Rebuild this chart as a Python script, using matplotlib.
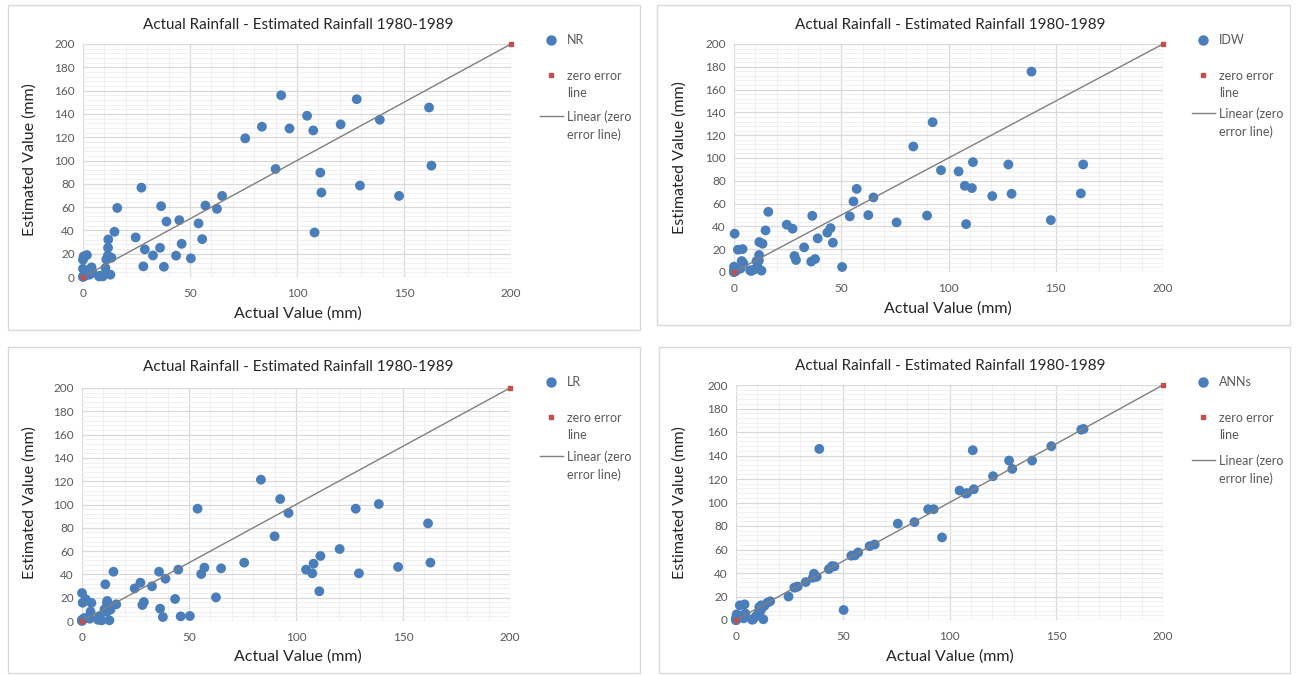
import matplotlib
matplotlib.use("Agg")
import matplotlib.pyplot as plt
from matplotlib.lines import Line2D
from matplotlib.patches import Rectangle
from matplotlib.ticker import MultipleLocator

plt.rcParams['font.family'] = ['Lato', 'DejaVu Sans']

title = "Actual Rainfall - Estimated Rainfall 1980-1989"
xlabel = "Actual Value (mm)"
ylabel = "Estimated Value (mm)"

actual = [162.8, 161.7, 147.7, 138.7, 129.4, 127.9, 120.4, 111.4, 110.9, 108.2,
          107.6, 104.7, 96.5, 92.6, 90.0, 83.6, 75.8, 65.0, 62.6, 57.2,
          55.7, 54.0, 50.4, 46.1, 45.0, 43.5, 39.0, 37.8, 36.5, 36.0,
          32.7, 28.9, 28.2, 27.3, 24.6, 16.0, 14.7, 13.3, 12.8, 11.8,
          11.7, 11.6, 10.9, 10.5, 9.2, 8.0, 7.5, 4.4, 4.0, 3.6,
          3.0, 1.8, 1.0, 0.3, 0.0, 0.0, 0.0, 0.0]

nr = [95.6, 145.5, 69.6, 135.0, 78.5, 152.6, 131.0, 72.5, 89.6, 38.2,
      125.8, 138.4, 127.5, 156.0, 92.7, 129.0, 119.0, 69.6, 58.5, 61.3,
      32.5, 46.0, 16.0, 28.5, 48.8, 18.3, 47.6, 8.8, 60.8, 25.1,
      18.5, 23.7, 9.1, 76.7, 34.0, 59.3, 38.8, 16.5, 2.0, 32.2,
      25.1, 18.3, 15.1, 7.7, 0.5, 1.1, 0.5, 4.3, 8.3, 3.0,
      2.0, 18.8, 1.0, 17.7, 14.8, 7.1, 0.0, 0.5]

idw = [94.3, 68.9, 45.5, 175.8, 68.6, 94.3, 66.6, 96.4, 73.6, 42.0,
       75.6, 88.2, 89.3, 131.4, 49.5, 110.1, 43.5, 65.4, 49.9, 72.9,
       61.9, 48.8, 4.4, 25.7, 38.5, 34.5, 29.5, 11.4, 49.3, 9.1,
       21.6, 10.5, 14.0, 38.0, 41.5, 52.8, 36.5, 24.8, 1.2, 26.3,
       14.9, 10.0, 5.0, 9.6, 2.0, 0.9, 1.5, 7.6, 20.1, 9.6,
       3.0, 19.6, 1.0, 33.6, 4.7, 2.0, 0.0, 0.0]

lr = [50.1, 83.8, 46.4, 100.4, 40.9, 96.4, 61.8, 55.8, 25.5, 49.2,
      40.9, 44.1, 92.7, 104.7, 72.7, 121.3, 50.1, 45.2, 20.3, 45.8,
      40.3, 96.4, 4.3, 4.0, 44.1, 18.9, 36.3, 3.4, 10.6, 42.3,
      29.8, 16.3, 13.7, 32.9, 28.0, 14.3, 42.3, 9.7, 0.6, 17.2,
      15.6, 8.0, 31.5, 10.0, 0.6, 4.0, 1.0, 15.5, 8.0, 2.0,
      3.0, 18.6, 2.5, 15.7, 24.0, 1.0, 0.0, 0.5]

anns = [162.6, 162.0, 147.9, 135.7, 128.6, 135.7, 122.4, 111.3, 144.5, 108.0,
        107.6, 110.2, 70.3, 94.3, 94.3, 83.3, 82.0, 64.3, 62.9, 57.5,
        55.0, 54.7, 8.5, 45.6, 45.9, 43.3, 145.6, 36.8, 39.4, 36.0,
        32.3, 28.5, 28.0, 27.5, 20.0, 15.9, 14.7, 12.0, 0.6, 12.5,
        10.0, 8.0, 11.0, 6.0, 3.0, 0.5, 0.3, 5.5, 13.3, 1.4,
        4.0, 12.5, 2.0, 4.8, 0.0, 0.0, 0.0, 2.0]

zero_x = [0, 200]
zero_y = [0, 200]

series_names = ["NR", "IDW", "LR", "ANNs"]
series_vals = [nr, idw, lr, anns]

W, H = 1298, 675
fig = plt.figure(figsize=(W / 100, H / 100), dpi=100)
fig.patch.set_facecolor('white')

BLUE = '#4A7EBB'
RED = '#C0504D'
GRAY_TXT = '#595959'
LINE_GRAY = '#7F7F7F'

panels = [
    dict(frame=(8, 5, 640, 330), ax=(83, 511, 44, 277), title=(298, 25),
         ylab=(30, 160), xlab=(298, 314), leg=(551, 40, 75, 116)),
    dict(frame=(657, 5, 1290, 325), ax=(734, 1163, 44, 272), title=(950, 25),
         ylab=(680, 158), xlab=(948, 309), leg=(1203, 40, 75, 113)),
    dict(frame=(8, 347, 640, 673), ax=(82, 510, 388, 621), title=(298, 367),
         ylab=(30, 503), xlab=(298, 657), leg=(551, 382, 417, 456)),
    dict(frame=(659, 347, 1290, 673), ax=(736, 1163, 385, 620), title=(950, 366),
         ylab=(680, 503), xlab=(950, 657), leg=(1203, 382, 417, 460)),
]


def fx(px):
    return px / W


def fy(py):
    return 1 - py / H


for p, name, vals in zip(panels, series_names, series_vals):
    l, t, r, b = p['frame']
    fig.patches.append(Rectangle((fx(l), fy(b)), fx(r) - fx(l), fy(t) - fy(b),
                                 transform=fig.transFigure, fill=False,
                                 edgecolor='#D9D9D9', linewidth=1.0, zorder=0))
    x0, x1, yt, yb = p['ax']
    ax = fig.add_axes([fx(x0), fy(yb), fx(x1) - fx(x0), fy(yt) - fy(yb)])
    ax.set_xlim(0, 200)
    ax.set_ylim(0, 200)
    for s in ax.spines.values():
        s.set_visible(False)
    ax.xaxis.set_major_locator(MultipleLocator(50))
    ax.xaxis.set_minor_locator(MultipleLocator(10))
    ax.yaxis.set_major_locator(MultipleLocator(20))
    ax.yaxis.set_minor_locator(MultipleLocator(4))
    ax.grid(which='major', color='#D9D9D9', linewidth=0.9)
    ax.grid(which='minor', color='#F0F0F0', linewidth=0.7)
    ax.set_axisbelow(True)
    ax.tick_params(which='both', length=0, labelsize=8.5, labelcolor=GRAY_TXT)
    ax.tick_params(axis='x', pad=8)
    ax.tick_params(axis='y', pad=6)

    ax.plot(zero_x, zero_y, color=LINE_GRAY, linewidth=1.0, zorder=3, clip_on=False)
    ax.plot(zero_x, zero_y, linestyle='none', marker='s', markersize=3,
            color=RED, zorder=4, clip_on=False)
    ax.scatter(actual, vals, s=50, color=BLUE, edgecolors='none', zorder=2, clip_on=False)

    fig.text(fx(p['title'][0]), fy(p['title'][1]), title, ha='center', va='center',
             fontsize=11, color='#262626')
    fig.text(fx(p['xlab'][0]), fy(p['xlab'][1]), xlabel, ha='center', va='center',
             fontsize=11.5, color='#262626')
    fig.text(fx(p['ylab'][0]), fy(p['ylab'][1]), ylabel, ha='center', va='center',
             fontsize=11.5, color='#262626', rotation=90)

    mx, y1, y2, y3 = p['leg']
    tx = mx + 16
    fig.add_artist(Line2D([fx(mx)], [fy(y1)], transform=fig.transFigure, marker='o',
                          markersize=6.5, color=BLUE, linestyle='none'))
    fig.text(fx(tx), fy(y1), name, ha='left', va='center', fontsize=9, color=GRAY_TXT)
    fig.add_artist(Line2D([fx(mx)], [fy(y2)], transform=fig.transFigure, marker='s',
                          markersize=2.5, color=RED, linestyle='none'))
    fig.text(fx(tx), fy(y2) + 0.008, "zero error\nline", ha='left', va='top',
             fontsize=9, color=GRAY_TXT, linespacing=1.5)
    fig.add_artist(Line2D([fx(mx - 11), fx(mx + 12)], [fy(y3), fy(y3)],
                          transform=fig.transFigure, color=LINE_GRAY, linewidth=1.0))
    fig.text(fx(tx), fy(y3) + 0.008, "Linear (zero\nerror line)", ha='left', va='top',
             fontsize=9, color=GRAY_TXT, linespacing=1.5)

fig.savefig("out.png", dpi=100, facecolor='white')
